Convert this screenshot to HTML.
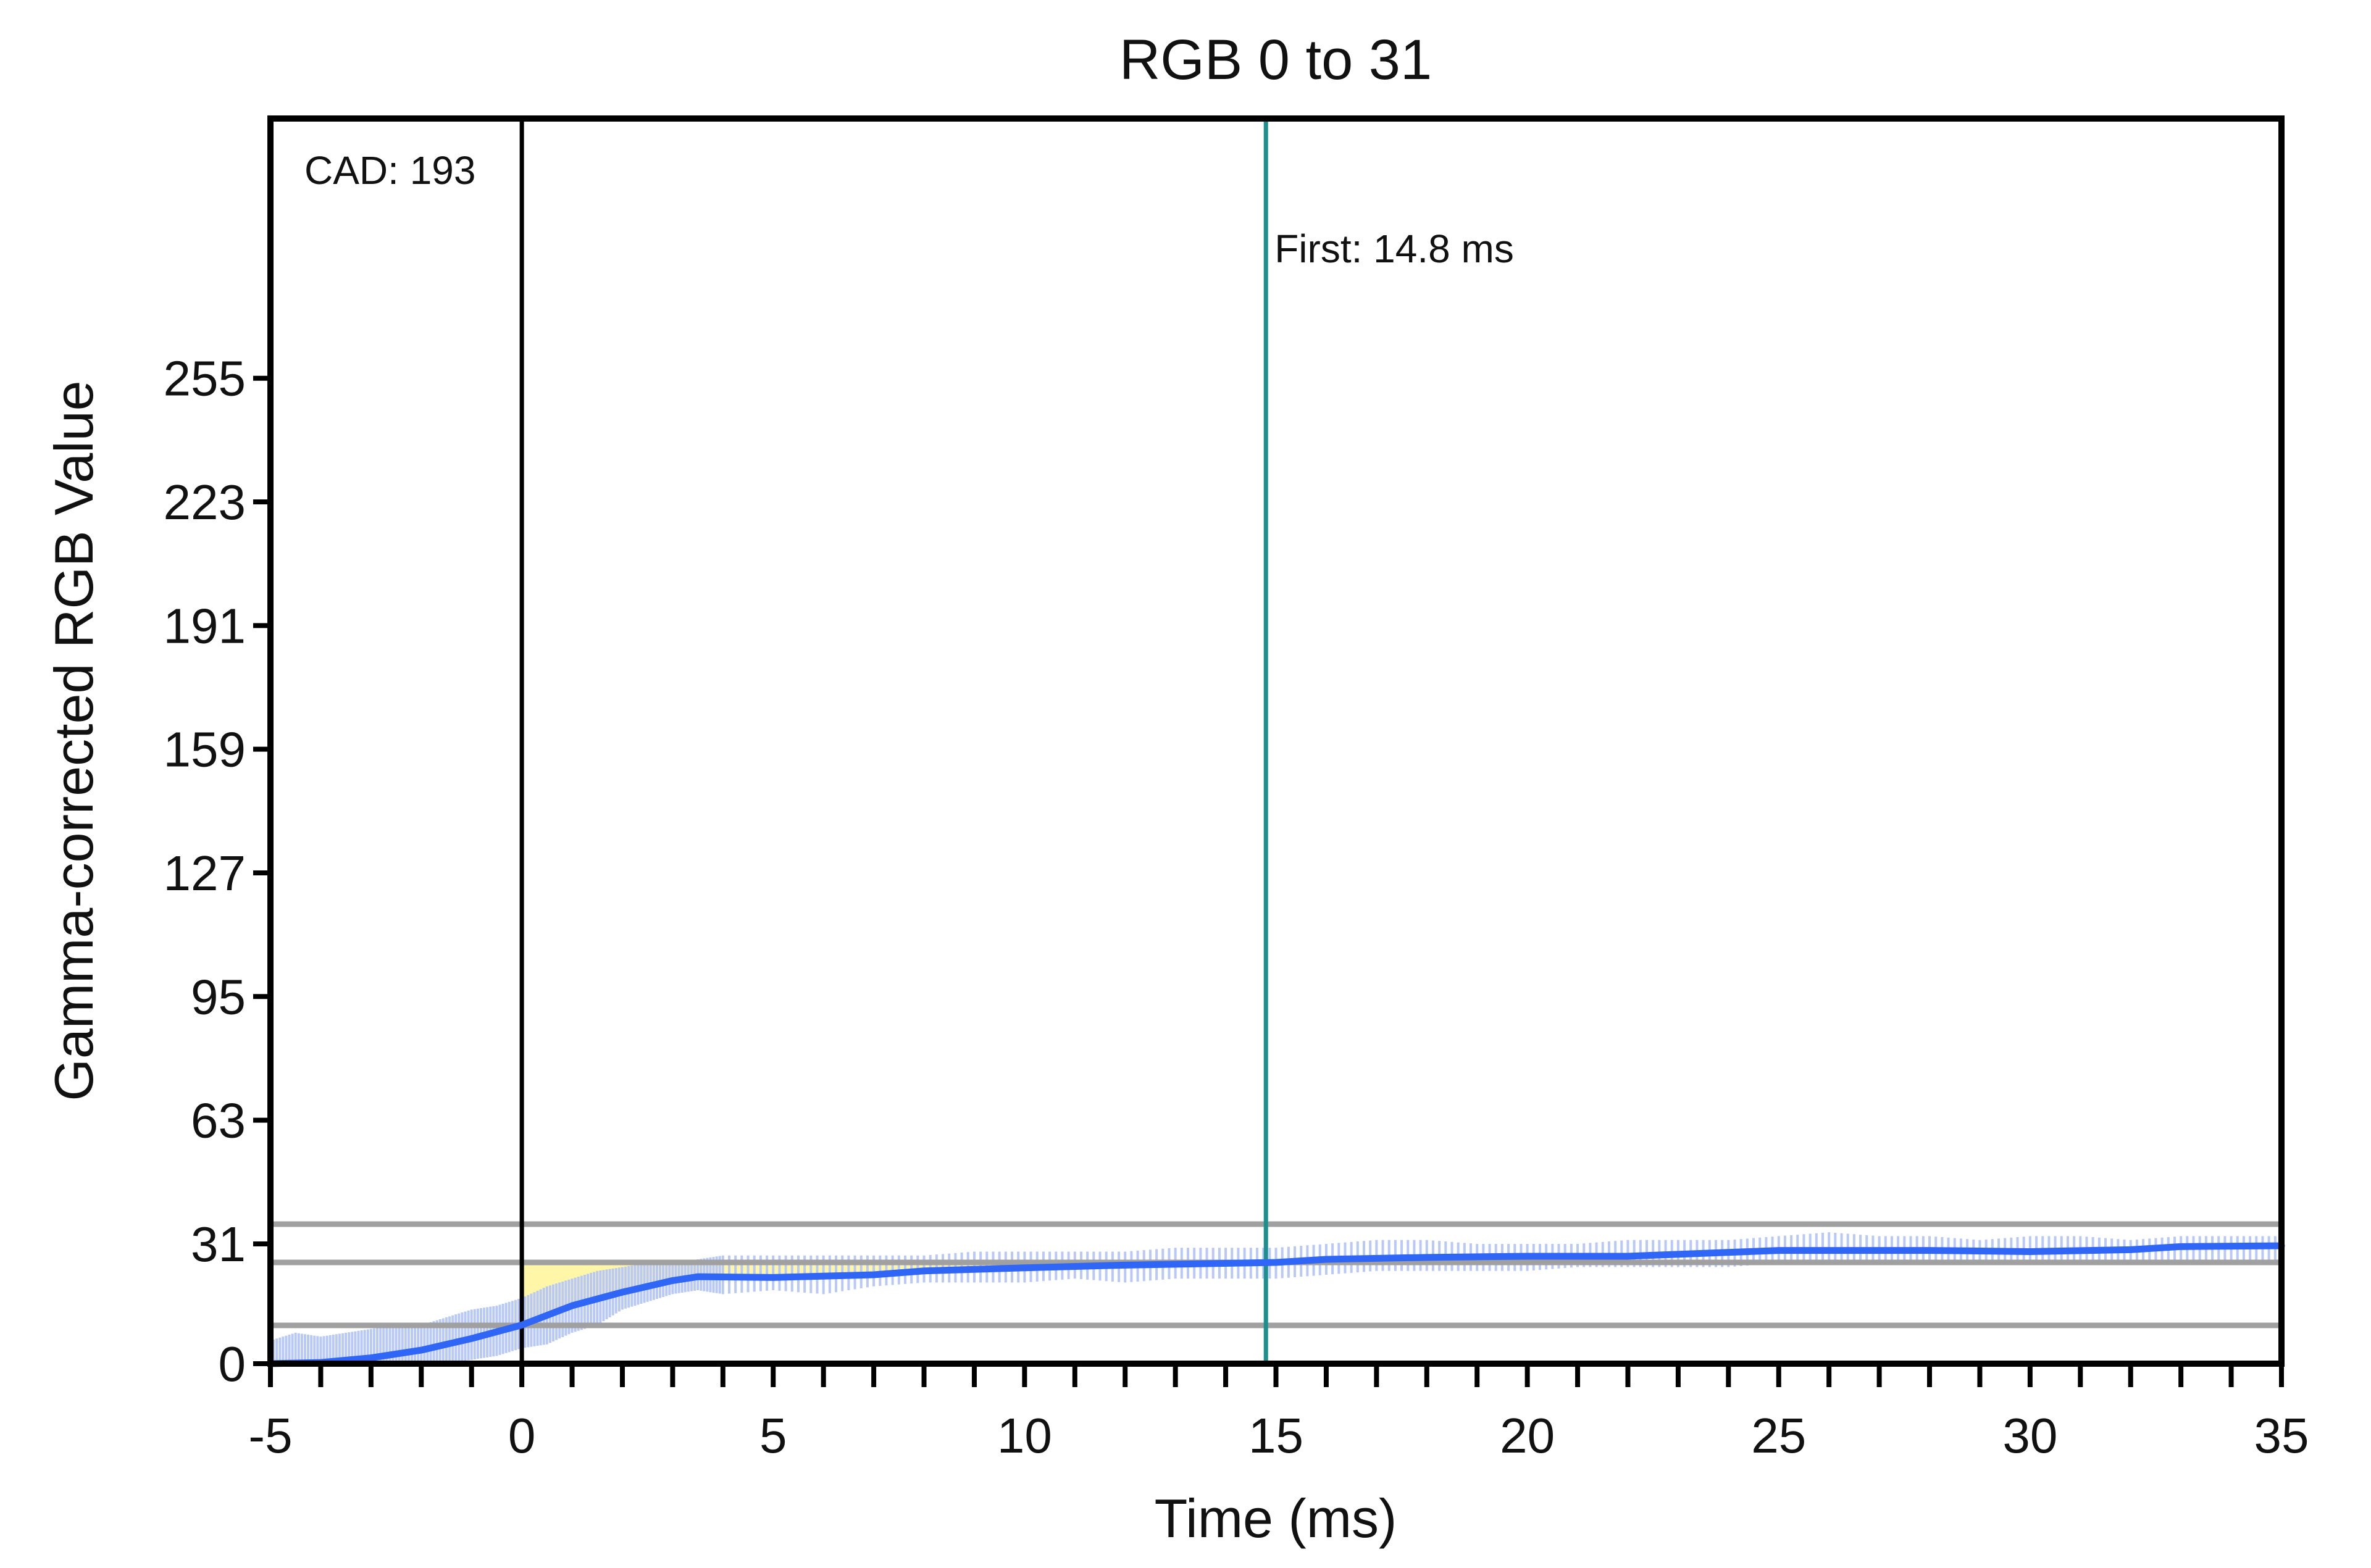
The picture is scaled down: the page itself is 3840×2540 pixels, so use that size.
<!DOCTYPE html>
<html><head><meta charset="utf-8"><style>
html,body{margin:0;padding:0;background:#fff;}
svg{display:block;font-family:"Liberation Sans","DejaVu Sans",sans-serif;}
</style></head><body>
<svg id="chart" width="3840" height="2540" viewBox="0 0 3840 2540" xmlns="http://www.w3.org/2000/svg">
<text x="2066" y="128" font-size="92" text-anchor="middle" fill="#111">RGB 0 to 31</text>
<g id="plot"></g>
<text x="2066" y="2490" font-size="88" text-anchor="middle" fill="#111">Time (ms)</text>
<text transform="translate(150,1200) rotate(-90)" font-size="88" text-anchor="middle" fill="#111">Gamma-corrected RGB Value</text>
</svg>
<script>
const xTicks = [-5,0,5,10,15,20,25,30,35];
const yTicks = [0,31,63,95,127,159,191,223,255];
const curveT = [-5,-4,-3,-2,-1.5,-1,0,0.5,1,2,3,3.5,5,7,8,10,12,15,16,18,20,22,24,25,28,30,32,33,35];
const curveV = [0,0.3,1.5,3.5,5,6.5,10,12.5,15,18.5,21.5,22.5,22.3,23,24,24.8,25.5,26.2,27,27.5,27.8,27.8,28.8,29.3,29.3,29,29.5,30.3,30.5];
const rawT = [-5,-4.5,-4,-3.5,-3,-2.5,-2,-1.5,-1,-0.5,0,0.5,1,1.5,2,2.5,3,3.5,4,5,6,7,8,9,10,11,12,13,14,15,16,17,18,19,20,21,22,23,24,25,26,27,28,29,30,31,32,33,34,35];
const rawLo = [0,0,0,0,0,0,0,0,1,2,4,5,8,10,14,16,18,19,18,19,18,20,21,21,21,22,21,22,22,22,23,24,24,24,24,25,25,25,25,26,26,26,26,26,26,26,26,26,26,27];
const rawHi = [6,8,7,8,9,10,10,12,14,15,17,20,22,24,25,26,26,27,28,28,28,28,28,29,29,29,29,30,30,30,31,32,32,31,31,31,32,32,32,33,34,33,33,32,33,33,32,33,33,33];
const thresholds = [36.1,26.2,9.9];
const cadLabel = "CAD: 193";
const firstT = 14.8;
const firstLabel = "First: 14.8 ms";

const L=438,R=3695,T=192,B=2209,xMin=-5,xMax=35,yPerUnit=6.26;
const X=t=>L+(t-xMin)/(xMax-xMin)*(R-L);
const Y=v=>B-v*yPerUnit;
const NS="http://www.w3.org/2000/svg";
const plot=document.getElementById('plot');
function mk(tag,attrs,parent){const e=document.createElementNS(NS,tag);for(const k in attrs)e.setAttribute(k,attrs[k]);(parent||plot).appendChild(e);return e;}

// yellow fill between curve and middle threshold from t=0
let fp=`M${X(0)},${Y(thresholds[1])}`;
const crossIdx=[];
for(let i=0;i<curveT.length;i++){ if(curveT[i]>=0 && curveV[i]<=thresholds[1]) crossIdx.push(i); }
crossIdx.forEach(i=>{fp+=` L${X(curveT[i])},${Y(curveV[i])}`;});
const lastI=crossIdx[crossIdx.length-1];
fp+=` L${X(curveT[lastI])},${Y(thresholds[1])} Z`;
const fill=mk('path',{d:fp,fill:'#fff6a8'});



// raw noise band
for(let i=0;i<rawT.length-1;i++){
  const n=8;
  for(let j=0;j<n;j++){
    const f=j/n;
    const t=rawT[i]+(rawT[i+1]-rawT[i])*f;
    const lo=rawLo[i]+(rawLo[i+1]-rawLo[i])*f;
    const hi=rawHi[i]+(rawHi[i+1]-rawHi[i])*f;
    const r=mk('line',{x1:X(t),x2:X(t),y1:Y(lo),y2:Y(hi),stroke:'#b8c9f7','stroke-width':4});
    
    
  }
}

// thresholds
thresholds.forEach(v=>{
  const l=mk('line',{x1:L,x2:R,y1:Y(v),y2:Y(v),stroke:'#a0a0a0','stroke-width':9});
  
  
});

// zero line
const z=mk('line',{x1:X(0),x2:X(0),y1:T,y2:B,stroke:'#000','stroke-width':7});


const f1=mk('line',{x1:X(firstT),x2:X(firstT),y1:T,y2:B,stroke:'#1e8f8f','stroke-width':7});



// curve
const cp=curveT.map((t,i)=>(i?'L':'M')+X(t)+','+Y(curveV[i])).join(' ');
const c=mk('path',{d:cp,fill:'none',stroke:'#2f66f5','stroke-width':11,'stroke-linejoin':'round','stroke-linecap':'round'});



// frame
const fr=mk('rect',{x:L,y:T,width:R-L,height:B-T,fill:'none',stroke:'#000','stroke-width':10});



// x ticks
for(let t=xMin;t<=xMax;t++){
  const tk=mk('line',{x1:X(t),x2:X(t),y1:B,y2:B+38,stroke:'#000','stroke-width':8});
  
  
}
xTicks.forEach(t=>{
  const tx=mk('text',{x:X(t),y:2353,'font-size':80,'text-anchor':'middle',fill:'#111'});
  tx.textContent=t;
  
  
});
yTicks.forEach(v=>{
  const tk=mk('line',{x1:L-28,x2:L,y1:Y(v),y2:Y(v),stroke:'#000','stroke-width':8});
  
  
  const tx=mk('text',{x:L-40,y:Y(v)+28,'font-size':80,'text-anchor':'end',fill:'#111'});
  tx.textContent=v;
  
  
});

const a1=mk('text',{x:493,y:298,'font-size':64,fill:'#111'});
a1.textContent=cadLabel;


const a2=mk('text',{x:X(firstT)+14,y:425,'font-size':64,fill:'#111'});
a2.textContent=firstLabel;


</script>
</body></html>
